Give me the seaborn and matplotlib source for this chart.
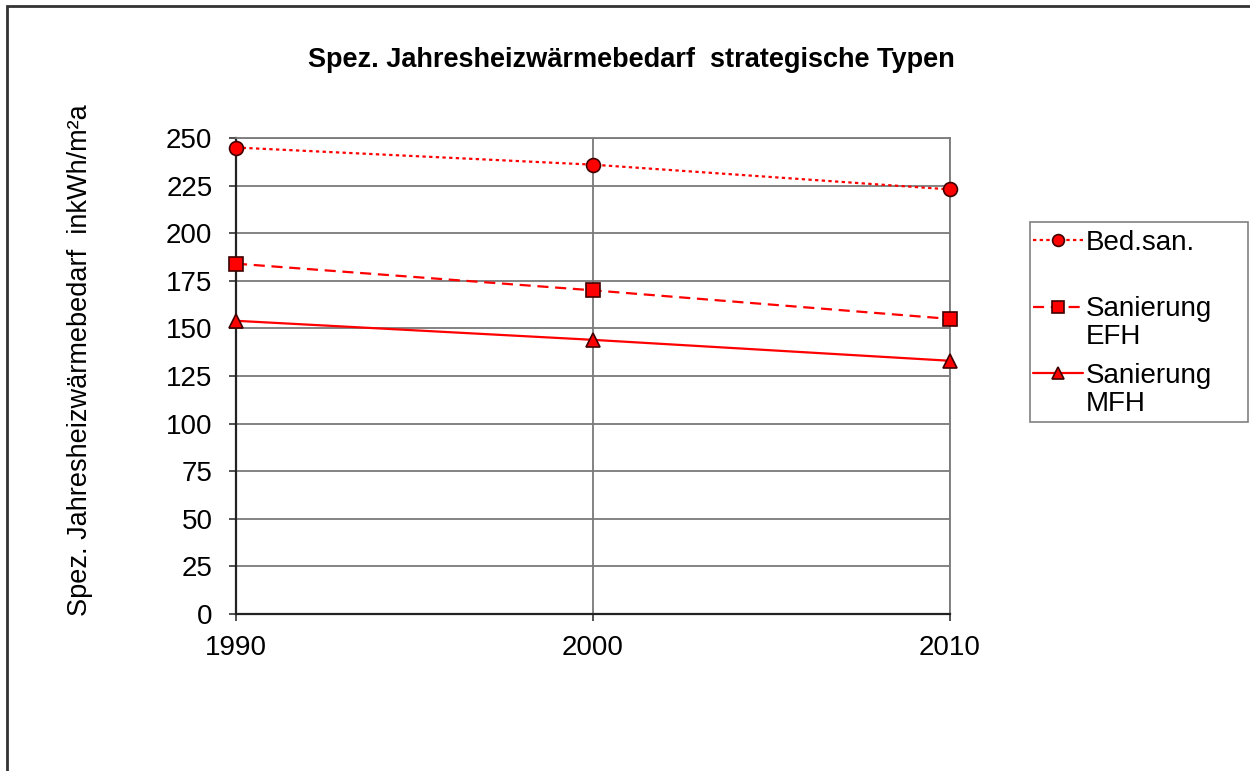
import pandas as pd
import matplotlib
matplotlib.use("Agg")
import matplotlib.pyplot as plt
import seaborn as sns
from matplotlib.patches import Rectangle

years = [1990, 2000, 2010]
bed_san = [245, 236, 223]
san_efh = [184, 170, 155]
san_mfh = [154, 144, 133]
series = ["Bed.san.", "Sanierung EFH", "Sanierung MFH"]
y_ticks = list(range(0, 251, 25))


def main():
    sns.set_theme(style="white")
    plt.rcParams["font.family"] = ["Liberation Sans", "DejaVu Sans"]
    plt.rcParams.update({"text.color": "black", "axes.labelcolor": "black",
                         "xtick.color": "black", "ytick.color": "black"})

    df = pd.DataFrame({
        "Jahr": years * 3,
        "Wert": bed_san + san_efh + san_mfh,
        "Typ": [series[0]] * 3 + [series[1]] * 3 + [series[2]] * 3,
    })

    fig = plt.figure(figsize=(12.5, 7.71), dpi=100)
    ax = fig.add_axes([0.1888, 0.2036, 0.5712, 0.6174])

    red = "#ff0000"
    sns.lineplot(
        data=df, x="Jahr", y="Wert", hue="Typ", style="Typ", ax=ax,
        palette=[red, red, red],
        markers={series[0]: "o", series[1]: "s", series[2]: "^"},
        dashes={series[0]: (1.5, 1.5), series[1]: (5, 3), series[2]: ""},
        markersize=10, markeredgecolor="#400000", markeredgewidth=1.2,
        linewidth=1.6, clip_on=False, zorder=5,
    )

    ax.set_xlim(1990, 2010)
    ax.set_ylim(0, 250)
    ax.set_xticks(years)
    ax.set_yticks(y_ticks)
    ax.tick_params(labelsize=20, length=5, width=1.2, color="#333333",
                   direction="out", bottom=True, left=True)
    ax.tick_params(axis="x", pad=10)
    ax.tick_params(axis="y", pad=12)
    ax.grid(True, color="#7a7a7a", linewidth=1.3)
    for s in ["top", "right"]:
        ax.spines[s].set_color("#7a7a7a")
        ax.spines[s].set_linewidth(1.3)
    for s in ["left", "bottom"]:
        ax.spines[s].set_color("#222222")
        ax.spines[s].set_linewidth(1.6)

    ax.set_xlabel("")
    ax.set_ylabel("Spez. Jahresheizwärmebedarf  inkWh/m²a", fontsize=19.5)
    ax.yaxis.set_label_coords(-0.2, 0.534)
    fig.text(0.505, 0.922, "Spez. Jahresheizwärmebedarf  strategische Typen",
             ha="center", va="center", fontsize=19.5, fontweight="bold")

    # legend: first word next to the marker, rest on a second line (Excel style)
    handles, labels = ax.get_legend_handles_labels()
    first_lines = [lab.split(" ")[0] for lab in labels]
    leg = ax.legend(handles, first_lines, loc="upper left",
                    bbox_to_anchor=(1033 / 1250, 1 - 230 / 771),
                    bbox_transform=fig.transFigure, fontsize=20, frameon=False,
                    handlelength=1.8, handletextpad=0.1, labelspacing=1.45,
                    borderpad=0, borderaxespad=0, markerscale=0.85)
    fig.canvas.draw()
    inv = fig.transFigure.inverted()
    for txt, lab in zip(leg.texts, labels):
        rest = lab.split(" ")[1:]
        if rest:
            bb = txt.get_window_extent()
            x0, y0 = inv.transform((bb.x0, bb.y0 - 2))
            fig.text(x0, y0, " ".join(rest), ha="left", va="top", fontsize=20)

    fig.patches.append(Rectangle((1030 / 1250, 1 - 422 / 771), 218 / 1250,
                                 200 / 771, transform=fig.transFigure,
                                 fill=False, edgecolor="#808080", linewidth=1.2))

    # outer chart frame (cut at right and bottom)
    fig.patches.append(Rectangle((7 / 1250, -0.1), 1.2, 0.1 + 1 - 6 / 771,
                                 transform=fig.transFigure, fill=False,
                                 edgecolor="#333333", linewidth=2))

    fig.savefig("out.png", dpi=100)
    plt.close(fig)


if __name__ == "__main__":
    main()
